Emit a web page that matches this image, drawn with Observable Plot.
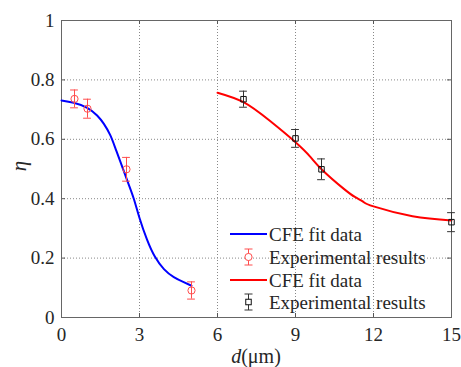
<!DOCTYPE html>
<html><head><meta charset="utf-8">
<script src="https://cdn.jsdelivr.net/npm/d3@7"></script>
<script src="https://cdn.jsdelivr.net/npm/@observablehq/plot@0.6"></script>
<style>body{margin:0;background:#fff}svg{display:block}svg text{font-family:"Liberation Serif","Times New Roman",serif !important}</style>
</head><body><div id="chart"></div>
<script>
// Fit curve (blue) samples
const blueD   = [0, 0.47, 0.99, 1.37, 1.63, 1.88, 2.08, 2.27, 2.53, 2.78, 3.0, 3.29, 3.59, 3.94, 4.32, 4.70, 5.0];
const blueEta = [0.731, 0.723, 0.706, 0.680, 0.652, 0.613, 0.568, 0.523, 0.461, 0.400, 0.335, 0.262, 0.205, 0.163, 0.136, 0.119, 0.107];
// Fit curve (red) samples
const redD   = [6, 7, 8, 9, 9.58, 10.05, 10.86, 11.3, 11.6, 12, 13.5, 15];
const redEta = [0.757, 0.725, 0.663, 0.590, 0.540, 0.495, 0.433, 0.405, 0.390, 0.374, 0.341, 0.327];
// Experimental results (red circles)
const expRedD   = [0.5, 1.0, 2.5, 5.0];
const expRedEta = [0.736, 0.703, 0.499, 0.091];
const expRedErr = [0.030, 0.032, 0.040, 0.029];
// Experimental results (black squares)
const expBlkD   = [7, 9, 10, 15];
const expBlkEta = [0.735, 0.603, 0.499, 0.321];
const expBlkErr = [0.027, 0.030, 0.035, 0.032];
// Ticks
const xTicks = [0, 3, 6, 9, 12, 15];
const yTicks = [0, 0.2, 0.4, 0.6, 0.8, 1];
const legendLabels = ["CFE fit data", "Experimental results", "CFE fit data", "Experimental results"];

const blue = blueD.map((d, i) => ({d, eta: blueEta[i]}));
const red = redD.map((d, i) => ({d, eta: redEta[i]}));
const er = expRedD.map((d, i) => ({d, eta: expRedEta[i], e: expRedErr[i]}));
const eb = expBlkD.map((d, i) => ({d, eta: expBlkEta[i], e: expBlkErr[i]}));

const W = 461, H = 367, mL = 61, mR = 10, mT = 20, mB = 50;
const iw = W - mL - mR, ih = H - mT - mB;
const font = "Liberation Serif, Times New Roman, serif";
const cap = 0.15;

const errMarks = (data, color) => [
  Plot.ruleX(data, {x: "d", y1: d => d.eta - d.e, y2: d => d.eta + d.e, stroke: color, strokeWidth: 1}),
  Plot.ruleY(data, {y: d => d.eta - d.e, x1: d => d.d - cap, x2: d => d.d + cap, stroke: color, strokeWidth: 1}),
  Plot.ruleY(data, {y: d => d.eta + d.e, x1: d => d.d - cap, x2: d => d.d + cap, stroke: color, strokeWidth: 1})
];

const chart = Plot.plot({
  width: W, height: H,
  marginLeft: mL, marginRight: mR, marginTop: mT, marginBottom: mB,
  style: {fontFamily: font, fontSize: "19px", color: "#262626", background: "#fff"},
  x: {domain: [0, 15], ticks: xTicks, label: null},
  y: {domain: [0, 1], ticks: yTicks, label: null},
  marks: [
    Plot.ruleX(xTicks.slice(1, -1), {x: d => d, stroke: "#888", strokeDasharray: "1,2", strokeWidth: 1}),
    Plot.ruleY(yTicks.slice(1, -1), {y: d => d, stroke: "#888", strokeDasharray: "1,2", strokeWidth: 1}),
    Plot.tickX(xTicks, {x: d => d, insetTop: ih - 4, stroke: "#555"}),
    Plot.tickX(xTicks, {x: d => d, insetBottom: ih - 4, stroke: "#555"}),
    Plot.tickY(yTicks, {y: d => d, insetRight: iw - 4, stroke: "#555"}),
    Plot.tickY(yTicks, {y: d => d, insetLeft: iw - 4, stroke: "#555"}),
    Plot.frame({stroke: "#666", strokeWidth: 1}),
    Plot.axisX({ticks: xTicks, tickSize: 0, tickPadding: 10, tickFormat: d => String(d), fill: "#262626", fontSize: 19}),
    Plot.axisY({ticks: yTicks, tickSize: 0, tickPadding: 7, tickFormat: d => String(d), fill: "#262626", fontSize: 19}),
    Plot.line(blue, {x: "d", y: "eta", stroke: "#0000ff", strokeWidth: 2, curve: "natural"}),
    Plot.line(red, {x: "d", y: "eta", stroke: "#ff0000", strokeWidth: 2, curve: "natural"}),
    ...errMarks(er, "#ff4d4d"),
    Plot.dot(er, {x: "d", y: "eta", r: 3.6, stroke: "#ff4d4d", fill: "none", strokeWidth: 1}),
    ...errMarks(eb, "#333"),
    Plot.dot(eb, {x: "d", y: "eta", r: 3.1, symbol: "square", stroke: "#111", fill: "none", strokeWidth: 1})
  ]
});
document.getElementById("chart").appendChild(chart);

const svg = d3.select(chart);
// axis labels
const xl = svg.append("text").attr("x", 256).attr("y", 363).attr("text-anchor", "middle")
  .style("font-size", "20px").attr("fill", "#262626");
xl.append("tspan").attr("font-style", "italic").text("d");
xl.append("tspan").text("(μm)");
svg.append("text").attr("transform", "translate(26,166) rotate(-90)").attr("text-anchor", "middle")
  .style("font-size", "21px").attr("font-style", "italic").attr("fill", "#262626").text("η");

// legend
const lg = svg.append("g").style("font-size", "19px").attr("text-anchor", "start");
const rows = [234, 257, 280, 302];
const styles = [
  {type: "line", color: "#0000ff"},
  {type: "circle", color: "#ff4d4d"},
  {type: "line", color: "#ff0000"},
  {type: "square", color: "#111"}
];
rows.forEach((y, i) => {
  const s = styles[i];
  if (s.type === "line") {
    lg.append("line").attr("x1", 230).attr("x2", 267).attr("y1", y).attr("y2", y).attr("stroke", s.color).attr("stroke-width", 2);
  } else {
    const cx = 248.5, c = s.type === "circle" ? "#ff4d4d" : "#333";
    lg.append("line").attr("x1", cx).attr("x2", cx).attr("y1", y - 8).attr("y2", y + 8).attr("stroke", c);
    lg.append("line").attr("x1", cx - 4).attr("x2", cx + 4).attr("y1", y - 8).attr("y2", y - 8).attr("stroke", c);
    lg.append("line").attr("x1", cx - 4).attr("x2", cx + 4).attr("y1", y + 8).attr("y2", y + 8).attr("stroke", c);
    if (s.type === "circle") lg.append("circle").attr("cx", cx).attr("cy", y).attr("r", 3.6).attr("fill", "#fff").attr("stroke", s.color);
    else lg.append("rect").attr("x", cx - 2.75).attr("y", y - 2.75).attr("width", 5.5).attr("height", 5.5).attr("fill", "#fff").attr("stroke", s.color);
  }
  lg.append("text").attr("x", 269).attr("y", y).attr("dy", "0.35em").attr("text-anchor", "start").attr("fill", "#262626").text(legendLabels[i]);
});
</script>
</body></html>
